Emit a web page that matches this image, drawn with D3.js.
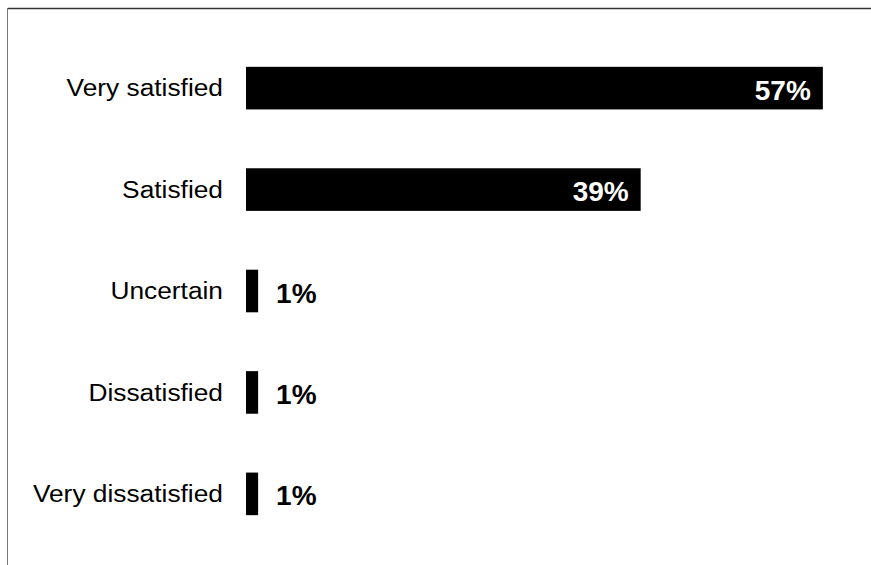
<!DOCTYPE html>
<html>
<head>
<meta charset="utf-8">
<script src="https://cdn.jsdelivr.net/npm/d3@7"></script>
<style>
  html, body { margin: 0; padding: 0; background: #fff; }
  svg { display: block; }
  text { font-family: "Liberation Sans", Arial, sans-serif; }
</style>
</head>
<body>
<script>
const categories = ["Very satisfied", "Satisfied", "Uncertain", "Dissatisfied", "Very dissatisfied"];
const values = [57, 39, 1, 1, 1];
const valueLabels = ["57%", "39%", "1%", "1%", "1%"];
const insideThreshold = 10;

const W = 871, H = 565;
const svg = d3.select("body").append("svg").attr("width", W).attr("height", H);

const data = categories.map((c, i) => ({ c, v: values[i], l: valueLabels[i] }));

const x = d3.scaleLinear().domain([0, 100]).range([246, 1258]);
const y = d3.scaleBand().domain(categories).range([8, 574]).padding(0.58);

// frame lines
svg.append("line").attr("x1", 8).attr("x2", W).attr("y1", 8.5).attr("y2", 8.5)
  .attr("stroke", "#333").attr("stroke-width", 1.5);
svg.append("line").attr("x1", 7.5).attr("x2", 7.5).attr("y1", 8).attr("y2", H)
  .attr("stroke", "#777").attr("stroke-width", 1);

svg.selectAll("rect.bar").data(data).join("rect")
  .attr("class", "bar")
  .attr("x", x(0))
  .attr("y", d => y(d.c))
  .attr("width", d => x(d.v) - x(0) + (d.v < insideThreshold ? 2 : 0))
  .attr("height", y.bandwidth())
  .attr("fill", "#000");

// category labels
const ax = x(0) - 23;
svg.selectAll("text.cat").data(data).join("text")
  .attr("class", "cat")
  .attr("x", ax)
  .attr("y", d => y(d.c) + y.bandwidth() / 2)
  .attr("dy", "0.35em")
  .attr("text-anchor", "end")
  .attr("font-size", 23.5)
  .attr("fill", "#000")
  .attr("transform", `translate(${ax},0) scale(1.12,1) translate(${-ax},0)`)
  .text(d => d.c);

// value labels
svg.selectAll("text.val").data(data).join("text")
  .attr("class", "val")
  .attr("x", d => d.v >= insideThreshold ? x(d.v) - 12 : x(d.v) + 2 + 18)
  .attr("y", d => y(d.c) + y.bandwidth() / 2 + 1.5)
  .attr("dy", "0.36em")
  .attr("text-anchor", d => d.v >= insideThreshold ? "end" : "start")
  .attr("font-size", 28)
  .attr("font-weight", "bold")
  .attr("fill", d => d.v >= insideThreshold ? "#fff" : "#000")
  .text(d => d.l);
</script>
</body>
</html>
